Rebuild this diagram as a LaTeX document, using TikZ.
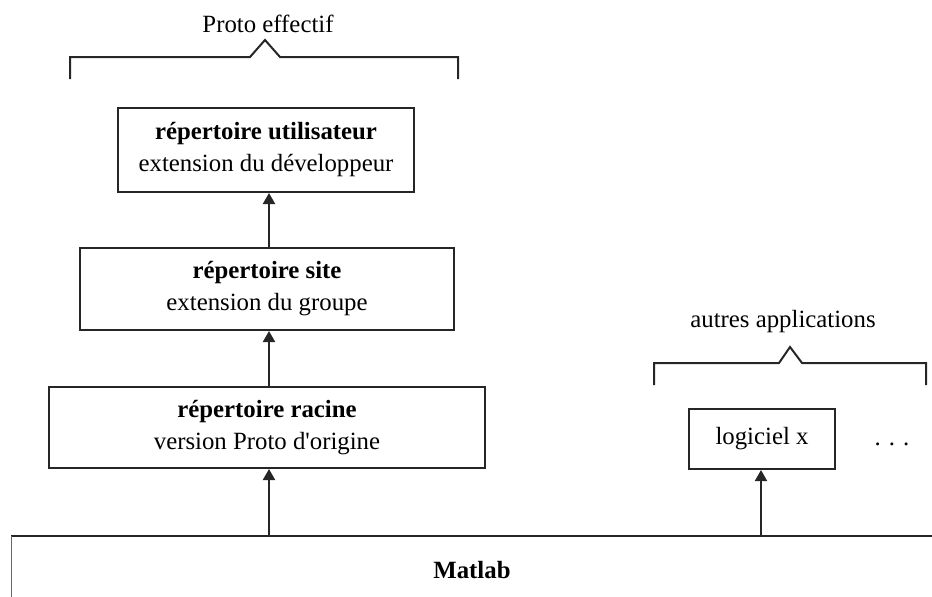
\documentclass[tikz,border=0pt]{standalone}
\usepackage{fontspec}
\setmainfont{Liberation Serif}
\usetikzlibrary{arrows.meta}
\tikzset{
  boxn/.style={draw=black!85, line width=2pt, rectangle, inner sep=0pt, align=center,
    font=\fontsize{24.8}{32}\selectfont},
  arr/.style={draw=black!85, line width=2pt, -{Triangle[width=12pt,length=11pt]}},
  brk/.style={draw=black!85, line width=2pt, line join=miter},
  lbl/.style={inner sep=0pt, font=\fontsize{24.8}{30}\selectfont}
}
\begin{document}
\begin{tikzpicture}[x=1pt,y=-1pt]
\useasboundingbox (0,0) rectangle (932,597);
% boxes
\node[boxn, minimum width=296pt, minimum height=84pt] (user) at (266,150)
  {\textbf{répertoire utilisateur}\\extension du développeur};
\node[boxn, minimum width=374pt, minimum height=82pt] (site) at (267,289)
  {\textbf{répertoire site}\\extension du groupe};
\node[boxn, minimum width=436pt, minimum height=81pt] (racine) at (267,427.5)
  {\textbf{répertoire racine}\\version Proto d\textquotesingle origine};
\node[boxn, minimum width=146pt, minimum height=60pt] (logx) at (762,439)
  {logiciel x};
\node[lbl] (dots) at (892,444) {.\hspace{8pt}.\hspace{8pt}.};
% Matlab base
\coordinate (mtl) at (11,536);
\coordinate (mtr) at (945,536);
\coordinate (mbl) at (11,605);
\draw[draw=black!85, line width=2.2pt] (mtl) -- (mtr);
\draw[draw=black!60, line width=1pt] (mtl) -- (mbl);
\node[lbl] (matlab) at (472,570) {\textbf{Matlab}};
% arrows
\coordinate (ax) at (269,0);
\coordinate (bx) at (761,0);
\draw[arr] (mtl -| ax) -- (racine.south -| ax);
\draw[arr] (racine.north -| ax) -- (site.south -| ax);
\draw[arr] (site.north -| ax) -- (user.south -| ax);
\draw[arr] (mtl -| bx) -- (logx.south -| bx);
% brackets
\draw[brk] (70,79) -- (70,57) -- (250,57) -- (265,40) -- (280,57) -- (458,57) -- (458,79);
\node[lbl] (proto) at (268,24) {Proto effectif};
\draw[brk] (654,385) -- (654,363) -- (779,363) -- (790,347) -- (802,363) -- (926,363) -- (926,385);
\node[lbl] (autres) at (783,322) {autres applications};
\end{tikzpicture}
\end{document}
